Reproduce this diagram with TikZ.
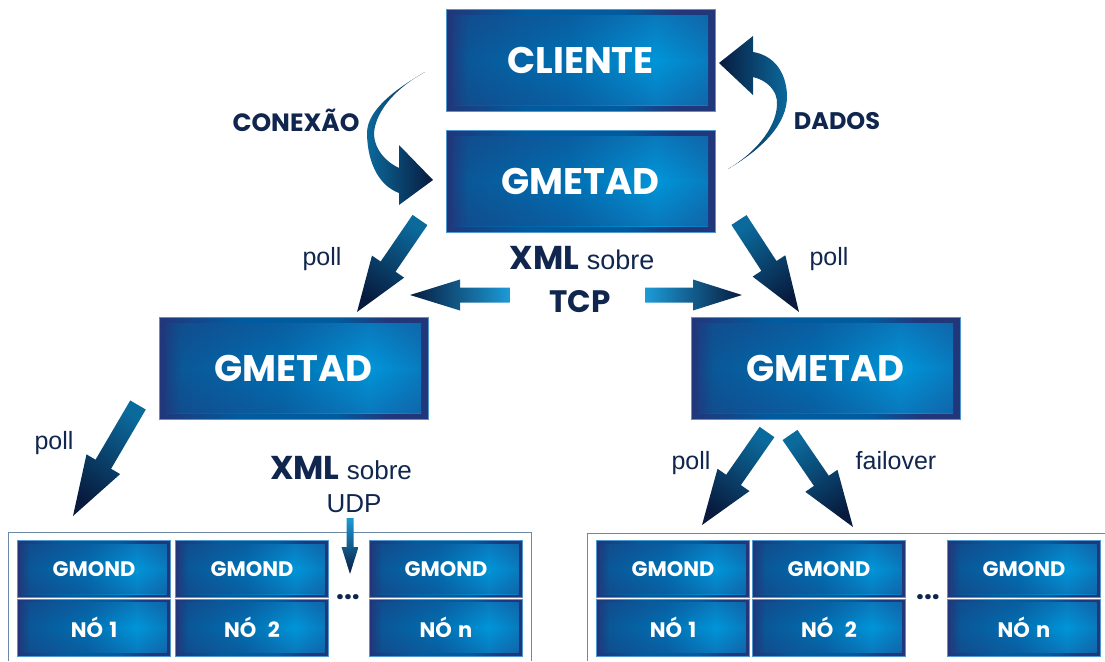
\documentclass[tikz,border=0pt]{standalone}
\usepackage{fontspec}
\setmainfont{Liberation Sans}
\newfontfamily\geo{Poppins}
\usetikzlibrary{calc,fadings}
\definecolor{navytext}{HTML}{10264E}
\definecolor{fnavy}{HTML}{22367A}
\definecolor{fblue}{HTML}{005C9E}
\definecolor{imid}{HTML}{0A5898}
\definecolor{imid2}{HTML}{0070B2}
\definecolor{ibright}{HTML}{0096D9}
\definecolor{iend}{HTML}{0A78BC}
\definecolor{edgeblue}{HTML}{4F98CE}
\definecolor{arlight}{HTML}{0B6A9C}
\definecolor{ardark}{HTML}{081B3E}
\definecolor{tcplight}{HTML}{1C9BD7}
\definecolor{contline}{HTML}{6C8AA6}
\pgfdeclarehorizontalshading{frameshade}{100bp}{color(0bp)=(fnavy); color(25bp)=(fnavy); color(40bp)=(fblue); color(58bp)=(fblue); color(68bp)=(fnavy); color(100bp)=(fnavy)}
\pgfdeclarehorizontalshading{innershade}{100bp}{color(0bp)=(fnavy); color(25bp)=(fnavy); color(29bp)=(imid); color(48bp)=(imid2); color(64bp)=(ibright); color(75bp)=(iend); color(100bp)=(iend)}
\tikzfading[name=vdark, top color=transparent!0, bottom color=transparent!0, middle color=transparent!100]
\newcommand\fatarrow[6]{%
  \coordinate (fa-b) at ($(#2)!#5!(#1)$);
  \shade[#6] ($(#1)!#3!90:(#2)$) -- ($(fa-b)!#3!90:(#2)$) -- ($(fa-b)!#4!90:(#2)$) -- (#2)
    -- ($(fa-b)!#4!-90:(#2)$) -- ($(fa-b)!#3!-90:(#2)$) -- ($(#1)!#3!-90:(#2)$) -- cycle;}
\tikzset{
  bigbox/.style={draw=edgeblue, line width=0.8pt, shading=frameshade,
    minimum width=269pt, minimum height=102pt, inner sep=0pt, outer sep=0pt,
    text=white, font=\geo\bfseries\fontsize{37}{37}\selectfont,
    path picture={\shade[shading=innershade]
      ([shift={(7pt,-6pt)}]path picture bounding box.north west) rectangle
      ([shift={(-7pt,6pt)}]path picture bounding box.south east);
      \fill[fnavy, fill opacity=0.3, path fading=vdark]
      ([shift={(7pt,-6pt)}]path picture bounding box.north west) rectangle
      ([shift={(-7pt,6pt)}]path picture bounding box.south east);}},
  cell/.style={draw=edgeblue, line width=0.6pt, shading=frameshade,
    minimum width=153pt, minimum height=57pt, inner sep=0pt, outer sep=0pt,
    text=white, font=\geo\bfseries\fontsize{21}{21}\selectfont,
    path picture={\shade[shading=innershade]
      ([shift={(4pt,-3.5pt)}]path picture bounding box.north west) rectangle
      ([shift={(-4pt,3.5pt)}]path picture bounding box.south east);
      \fill[fnavy, fill opacity=0.3, path fading=vdark]
      ([shift={(4pt,-3.5pt)}]path picture bounding box.north west) rectangle
      ([shift={(-4pt,3.5pt)}]path picture bounding box.south east);}},
  boldlab/.style={text=navytext, font=\geo\bfseries\fontsize{25}{25}\selectfont, inner sep=0pt},
  plainlab/.style={text=navytext, font=\fontsize{25}{25}\selectfont, inner sep=0pt},
  dots/.style={text=navytext, font=\geo\bfseries\fontsize{28}{28}\selectfont, inner sep=0pt},
  pollL/.style={top color=arlight, bottom color=ardark, shading angle=-35},
  pollR/.style={top color=arlight, bottom color=ardark, shading angle=35},
  container/.style={draw=contline, line width=1pt}
}
\begin{document}
\begin{tikzpicture}[x=1pt,y=-1pt]
\useasboundingbox (0,0) rectangle (1105,661);
% containers
\coordinate (cl1) at (8,661); \coordinate (cl2) at (531,532); \coordinate (cl3) at (531,661);
\coordinate (cr1) at (587,661); \coordinate (cr2) at (1105,533);
\draw[container] (cl1) |- (cl2) -- (cl3);
\draw[container] (cr1) |- (cr2);
% main boxes
\node[bigbox] (cliente) at (580.5,60.5) {CLIENTE};
\node[bigbox] (gtop) at (580.5,181) {GMETAD};
\node[bigbox] (gleft) at (293.5,368) {GMETAD};
\node[bigbox] (gright) at (825.5,368) {GMETAD};
% cells
\foreach \cx/\nm/\lab in {94/l1/NÓ\hspace{0.3em}1, 252/l2/NÓ\hspace{0.55em}2, 446/ln/NÓ\hspace{0.3em}n, 673/r1/NÓ\hspace{0.3em}1, 829/r2/NÓ\hspace{0.55em}2, 1024/rn/NÓ\hspace{0.3em}n}{
  \node[cell] (\nm u) at (\cx,569) {GMOND};
  \node[cell] (\nm d) at (\cx,627.5) {\lab};
}
\node[dots] (dl) at (348,597) {...};
\node[dots] (dr) at (928,597) {...};
% curved arrow CONEXAO
\shade[left color=arlight, right color=ardark]
  (425,72) .. controls (385,95) and (366,115) .. (367,135)
  .. controls (368,165) and (380,186) .. (399,193)
  -- (399,205) -- (433,180) -- (399,145) -- (399,168)
  .. controls (386,162) and (375,150) .. (374,135)
  .. controls (374,115) and (392,90) .. (425,72) -- cycle;
% curved arrow DADOS
\shade[left color=ardark, right color=arlight]
  (728,169) .. controls (760,150) and (788,125) .. (787,95)
  .. controls (786,70) and (772,55) .. (753,52)
  -- (753,36) -- (719,63) -- (753,95) -- (753,77)
  .. controls (766,80) and (778,90) .. (777,105)
  .. controls (776,130) and (752,155) .. (728,169) -- cycle;
% straight arrows
\coordinate (p1t) at (420,220); \coordinate (p1h) at (357,312);
\coordinate (p2t) at (739,220); \coordinate (p2h) at (799,312);
\coordinate (p3t) at (138,405); \coordinate (p3h) at (73,516);
\coordinate (p4t) at (767,432); \coordinate (p4h) at (702,525);
\coordinate (p5t) at (790,435); \coordinate (p5h) at (853,527);
\fatarrow{p1t}{p1h}{9pt}{19.5pt}{55pt}{pollL}
\fatarrow{p2t}{p2h}{9pt}{19.5pt}{55pt}{pollR}
\fatarrow{p3t}{p3h}{9pt}{19.5pt}{60pt}{pollL}
\fatarrow{p4t}{p4h}{9pt}{19.5pt}{55pt}{pollL}
\fatarrow{p5t}{p5h}{9pt}{19.5pt}{56pt}{pollR}
\coordinate (t1t) at (510,295); \coordinate (t1h) at (410,295);
\coordinate (t2t) at (645,295); \coordinate (t2h) at (742,295);
\fatarrow{t1t}{t1h}{7.5pt}{15.5pt}{50pt}{left color=ardark, right color=tcplight}
\fatarrow{t2t}{t2h}{7.5pt}{15.5pt}{49pt}{left color=tcplight, right color=ardark}
\coordinate (ut) at (350,518); \coordinate (uh) at (350,574);
\fatarrow{ut}{uh}{3.5pt}{8.5pt}{27pt}{top color=tcplight, bottom color=ardark}
% labels
\node[boldlab] (lcon) at (296,120) {CONEXÃO};
\node[boldlab, font=\geo\bfseries\fontsize{24}{24}\selectfont] (ldad) at (837,121) {DADOS};
\node[plainlab] (lp1) at (322,259) {poll};
\node[plainlab] (lp2) at (829,259) {poll};
\node[plainlab] (lp3) at (54,443) {poll};
\node[plainlab] (lp4) at (691,463) {poll};
\node[plainlab] (lfo) at (896,461) {failover};
\node[plainlab, anchor=base, font=\fontsize{27}{27}\selectfont] (xml1) at (582,269) {{\geo\bfseries\fontsize{33}{33}\selectfont XML} sobre};
\node[boldlab, anchor=base, font=\geo\bfseries\fontsize{31}{31}\selectfont] (tcp) at (580,312) {TCP};
\node[plainlab, anchor=base, font=\fontsize{26}{26}\selectfont] (xml2) at (341,479) {{\geo\bfseries\fontsize{33}{33}\selectfont XML} sobre};
\node[plainlab, anchor=base, font=\fontsize{26}{26}\selectfont] (udp) at (354,512) {UDP};
\end{tikzpicture}
\end{document}
